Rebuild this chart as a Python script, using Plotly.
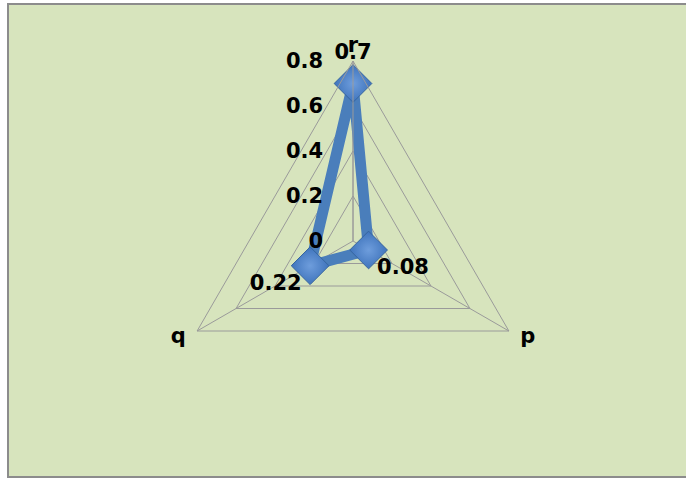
import plotly.graph_objects as go

# Radar data: one value per axis
categories = ["r", "p", "q"]
category_text = ["r", "\u00a0p<br>\u00a0", "q\u00a0<br>\u00a0"]
values = [0.7, 0.08, 0.22]
value_labels = ["0.7", "0.08", "0.22"]
label_positions = ["top center", "bottom right", "bottom left"]
radial_ticks = [0, 0.2, 0.4, 0.6, 0.8]
radial_tick_text = ["0", "0.2", "0.4", "0.6", "0.8"]

W, H = 686, 480
BG = "#D7E4BD"
BLUE = "#4A7EBB"
GRID = "#9a9a9a"
FONT = "DejaVu Sans"
FS = 21

# polar area: centre and radius in pixels
cx, cy, R = 353, 241, 180

fig = go.Figure()

# closed outline of the series
fig.add_trace(go.Scatterpolar(
    r=values + values[:1],
    theta=categories + categories[:1],
    mode="lines",
    line=dict(color=BLUE, width=11),
    hoverinfo="skip",
    showlegend=False,
))

# diamond markers
fig.add_trace(go.Scatterpolar(
    r=values,
    theta=categories,
    mode="markers",
    marker=dict(
        symbol="diamond",
        size=29,
        color="#3F74BC",
        gradient=dict(type="radial", color="#6E9DDC"),
        line=dict(color="#35649F", width=1),
    ),
    hoverinfo="skip",
    showlegend=False,
))

# value labels; invisible markers set how far each label sits from its point
fig.add_trace(go.Scatterpolar(
    r=values,
    theta=categories,
    mode="markers+text",
    marker=dict(size=[29, 12, 12], opacity=0),
    text=value_labels,
    textposition=label_positions,
    textfont=dict(family=FONT, size=FS, color="black", weight="bold"),
    hoverinfo="skip",
    showlegend=False,
))

fig.update_layout(
    width=W,
    height=H,
    margin=dict(l=0, r=0, t=0, b=0),
    paper_bgcolor="white",
    plot_bgcolor="rgba(0,0,0,0)",
    polar=dict(
        domain=dict(x=[(cx - R) / W, (cx + R) / W],
                    y=[(H - cy - R) / H, (H - cy + R) / H]),
        bgcolor="rgba(0,0,0,0)",
        gridshape="linear",
        angularaxis=dict(
            direction="clockwise",
            rotation=90,
            tickmode="array",
            tickvals=categories,
            ticktext=category_text,
            showline=True,
            linecolor=GRID,
            linewidth=1,
            gridcolor=GRID,
            gridwidth=1,
            ticks="",
            tickfont=dict(family=FONT, size=FS, color="black", weight="bold"),
        ),
        radialaxis=dict(
            range=[0, 0.8],
            angle=90,
            tickangle=90,
            side="counterclockwise",
            tickvals=radial_ticks,
            ticktext=radial_tick_text,
            ticks="outside",
            ticklen=22,
            tickcolor="rgba(0,0,0,0)",
            showline=True,
            linecolor=GRID,
            linewidth=1,
            gridcolor=GRID,
            gridwidth=1,
            tickfont=dict(family=FONT, size=FS, color="black", weight="bold"),
        ),
    ),
    shapes=[
        dict(type="rect", xref="paper", yref="paper",
             x0=8 / W, x1=1.02, y0=(H - 477) / H, y1=(H - 4) / H,
             fillcolor=BG, line=dict(color="#8c8c8c", width=2),
             layer="below"),
    ],
)

fig.write_html("out.html")
